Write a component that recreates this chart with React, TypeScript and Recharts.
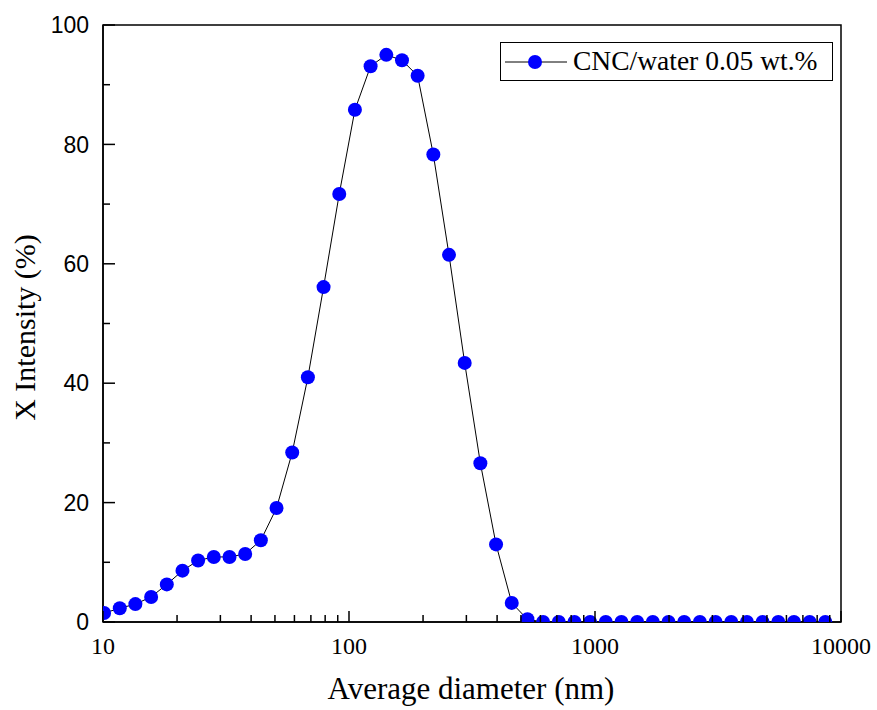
import React from 'react';
import { LineChart, Line, XAxis, YAxis, Legend, ReferenceArea } from 'recharts';

const diameters = [10.1, 11.7, 13.54, 15.69, 18.17, 21.04, 24.36, 28.21, 32.67, 37.84, 43.82, 50.75, 58.77, 68.06, 78.82, 91.28, 105.7, 122.4, 141.8, 164.2, 190.1, 220.2, 255.0, 295.3, 342.0, 396.1, 458.7, 531.2, 615.1, 712.4, 825.0, 955.4, 1106, 1281, 1484, 1718, 1990, 2305, 2669, 3091, 3580, 4145, 4801, 5560, 6439, 7456, 8635];
const intensity = [1.5, 2.3, 3.0, 4.2, 6.3, 8.6, 10.3, 10.9, 10.9, 11.4, 13.7, 19.1, 28.4, 41.0, 56.1, 71.7, 85.8, 93.1, 95.0, 94.1, 91.5, 78.3, 61.5, 43.4, 26.6, 13.0, 3.2, 0.45, 0, 0, 0, 0, 0, 0, 0, 0, 0, 0, 0, 0, 0, 0, 0, 0, 0, 0, 0];
const seriesName = 'CNC/water 0.05 wt.%';
const xMajorTicks = [10, 100, 1000, 10000];
const xMinorTicks = [20, 30, 40, 50, 60, 70, 80, 90, 200, 300, 400, 500, 600, 700, 800, 900, 2000, 3000, 4000, 5000, 6000, 7000, 8000, 9000];
const yMajorTicks = [0, 20, 40, 60, 80, 100];
const yMinorTicks = [10, 30, 50, 70, 90];

const data = diameters.map((d, i) => ({ d, v: intensity[i] }));
const xTicks = [...xMajorTicks, ...xMinorTicks].sort((a, b) => a - b);
const yTicks = [...yMajorTicks, ...yMinorTicks].sort((a, b) => a - b);

const SERIF = '"Liberation Serif", "Times New Roman", serif';
const SANS = '"Liberation Sans", Arial, sans-serif';

const XTick = (props: any) => {
  const { x, y, payload } = props;
  const major = xMajorTicks.includes(payload.value);
  return (
    <g>
      <line x1={x} y1={y} x2={x} y2={y - (major ? 11 : 7)} stroke="#000" strokeWidth={1.5} />
      {major && (
        <text x={x} y={y + 32} textAnchor="middle" fontFamily={SERIF} fontSize={24} fill="#000">
          {payload.value}
        </text>
      )}
    </g>
  );
};

const YTick = (props: any) => {
  const { x, y, payload } = props;
  const major = yMajorTicks.includes(payload.value);
  return (
    <g>
      <line x1={x} y1={y} x2={x + (major ? 12 : 7)} y2={y} stroke="#000" strokeWidth={1.5} />
      {major && (
        <text x={x - 14} y={y} dy="0.36em" textAnchor="end" fontFamily={SANS} fontSize={23} fill="#000">
          {payload.value}
        </text>
      )}
    </g>
  );
};

const LegendBox = () => (
  <div
    style={{
      width: 333,
      height: 39,
      border: '1px solid #000',
      boxSizing: 'border-box',
      background: '#fff',
      position: 'relative',
    }}
  >
    <svg width={331} height={37} style={{ position: 'absolute', left: 0, top: 0 }}>
      <line x1={4} y1={19} x2={66} y2={19} stroke="#000" strokeWidth={1} />
      <circle cx={34} cy={19} r={7} fill="#0000FF" />
      <text x={72} y={27} fontFamily={SERIF} fontSize={27.5} fill="#000">
        {seriesName}
      </text>
    </svg>
  </div>
);

export default function App() {
  return (
    <div style={{ position: 'absolute', left: 0, top: 0, width: 877, height: 710, background: '#fff' }}>
      <LineChart width={877} height={710} data={data} margin={{ top: 25, right: 36, bottom: 0, left: 0 }}>
        <ReferenceArea x1={10} x2={10000} y1={0} y2={100} fill="none" stroke="#000" strokeWidth={1.5} ifOverflow="visible" />
        <XAxis
          dataKey="d"
          type="number"
          scale="log"
          domain={[10, 10000]}
          ticks={xTicks}
          interval={0}
          allowDataOverflow
          height={88}
          tickSize={0}
          tickMargin={0}
          tickLine={false}
          axisLine={{ stroke: '#000', strokeWidth: 1.5 }}
          tick={<XTick />}
          label={(p: any) => {
            const vb = p.viewBox;
            return (
              <text x={vb.x + vb.width / 2 - 1} y={vb.y + 77} textAnchor="middle" fontFamily={SERIF} fontSize={31} fill="#000">
                Average diameter (nm)
              </text>
            );
          }}
        />
        <YAxis
          type="number"
          domain={[0, 100]}
          ticks={yTicks}
          interval={0}
          allowDataOverflow
          width={103}
          tickSize={0}
          tickMargin={0}
          tickLine={false}
          axisLine={{ stroke: '#000', strokeWidth: 1.5 }}
          tick={<YTick />}
          label={(p: any) => {
            const vb = p.viewBox;
            const cx = 35;
            const cy = vb.y + vb.height / 2 + 4;
            return (
              <text x={cx} y={cy} transform={`rotate(-90 ${cx} ${cy})`} textAnchor="middle" fontFamily={SERIF} fontSize={30} fill="#000">
                X Intensity (%)
              </text>
            );
          }}
        />
        <Legend
          layout="horizontal"
          verticalAlign="middle"
          align="center"
          content={() => <LegendBox />}
          wrapperStyle={{ position: 'absolute', left: 500, top: 42, width: 333, height: 39 }}
        />
        <Line
          dataKey="v"
          name={seriesName}
          type="linear"
          stroke="#000"
          strokeWidth={1}
          dot={{ r: 7, fill: '#0000FF', stroke: 'none' }}
          activeDot={false}
          isAnimationActive={false}
        />
      </LineChart>
    </div>
  );
}
